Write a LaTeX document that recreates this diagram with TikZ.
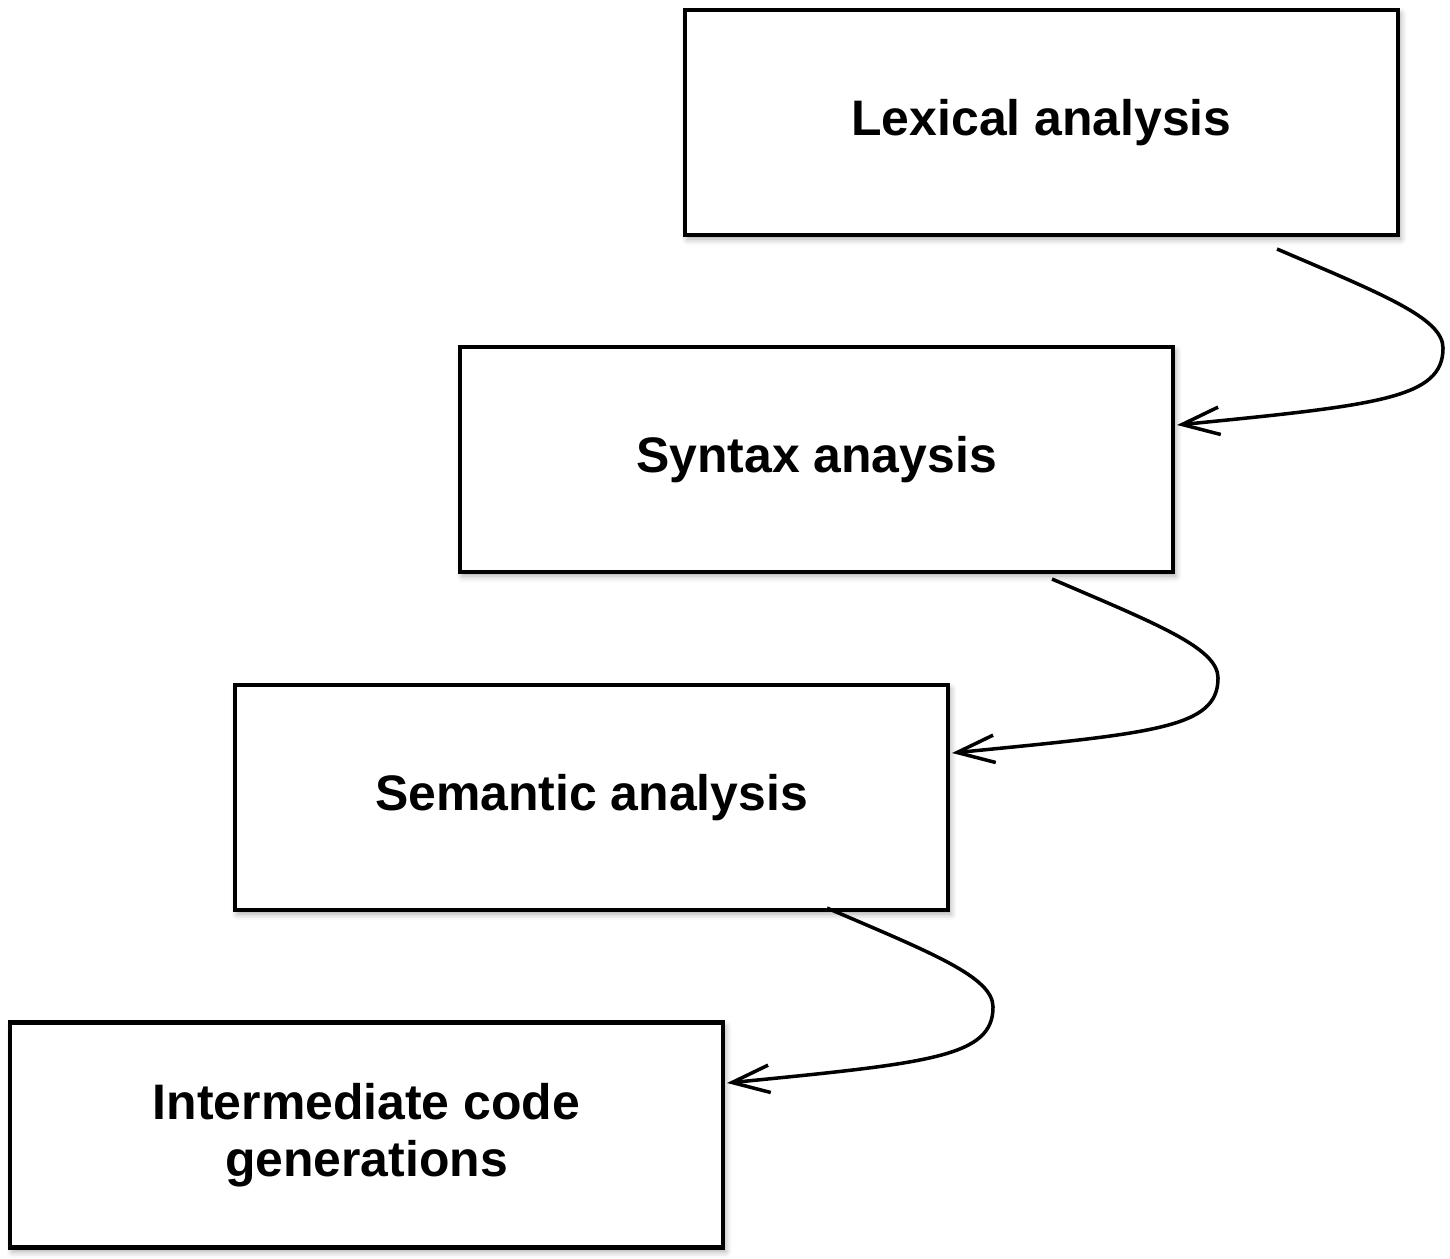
\documentclass[tikz,border=0pt]{standalone}
\usepackage{fontspec}
\setmainfont{Liberation Sans}
\usetikzlibrary{arrows.meta,shadows.blur}
\tikzset{
  phase/.style={draw, line width=2.3pt, fill=white, minimum width=14.26cm,
    minimum height=4.5cm, align=center,
    font=\fontsize{28.4}{32.4}\selectfont\bfseries,
    blur shadow={shadow xshift=0.05cm, shadow yshift=-0.08cm,
      shadow blur radius=0.12cm, shadow opacity=35}},
  flow/.style={line width=2pt, -{Straight Barb[length=0.75cm,width=0.55cm]}}
}
\begin{document}
\begin{tikzpicture}
  \useasboundingbox (0,0) rectangle (29,-25.16);
  % the four phases
  \node[phase] (lex) at (20.83,-2.45) {Lexical analysis};
  \node[phase] (syn) at (16.33,-9.19) {Syntax anaysis};
  \node[phase] (sem) at (11.83,-15.95) {Semantic analysis};
  \node[phase] (icg) at (7.33,-22.7) {Intermediate code\\generations};

  % hooked arrows from one phase to the next
  \foreach \a/\b/\s/\e in {lex/syn/-0.24/0.69, syn/sem/-0.1/0.89, sem/icg/0.08/1.04}
    \draw[flow] ([shift={(-2.46,\s)}]\a.south east)
      .. controls +(2.1,-0.9) and +(0,0.6) .. ++(3.32,-1.98)
      .. controls +(0,-1) and +(4.06,0.4) .. ([shift={(0.04,\e)}]\b.east);
\end{tikzpicture}
\end{document}
